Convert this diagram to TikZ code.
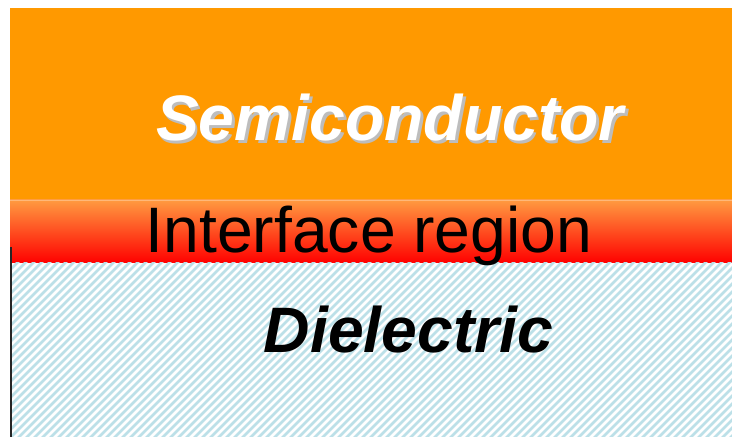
\documentclass[tikz,border=0pt]{standalone}
\usepackage{fontspec}
\setmainfont{Liberation Sans}
\begin{document}
\begin{tikzpicture}[x=1bp,y=-1bp,
  bigtext/.style={font=\fontsize{64.5}{64.5}\selectfont, inner sep=0pt, anchor=base},
  hatchline/.style={draw=hatchblue, line width=2.6bp}]
\definecolor{semiorange}{HTML}{FF9900}
\definecolor{ifacetop}{HTML}{FF9A40}
\definecolor{ifacebot}{HTML}{FF0000}
\definecolor{hatchblue}{HTML}{BCE0E8}
\definecolor{shadowgray}{HTML}{BDBDBD}
\useasboundingbox (0,0) rectangle (732,437);
\fill[white] (0,0) rectangle (732,437);
% semiconductor
\fill[semiorange] (10,8) rectangle (732,200);
% interface
\shade[top color=ifacetop, bottom color=ifacebot] (10,200) rectangle (732,263);
\draw[white, opacity=0.3, line width=1bp] (10,200.5) -- (732,200.5);
% dielectric hatch
\begin{scope}
  \clip (10,263) rectangle (732,437);
  \foreach \i in {-200,-192,...,740} {
    \draw[hatchline] (\i,440) -- ++(185,-185);
  }
\end{scope}
\draw[black!85, line width=2bp] (11,247) -- (11,437);
% texts
\node[bigtext, text=shadowgray] (semishadow) at (392.5,143.5) {\bfseries\itshape Semiconductor};
\node[bigtext, text=white] (semi) at (390,141) {\bfseries\itshape Semiconductor};
\node[bigtext, text=black] (iface) at (369,253) {Interface region};
\node[bigtext, text=black] (diel) at (408.5,353) {\bfseries\itshape Dielectric};
\end{tikzpicture}
\end{document}
